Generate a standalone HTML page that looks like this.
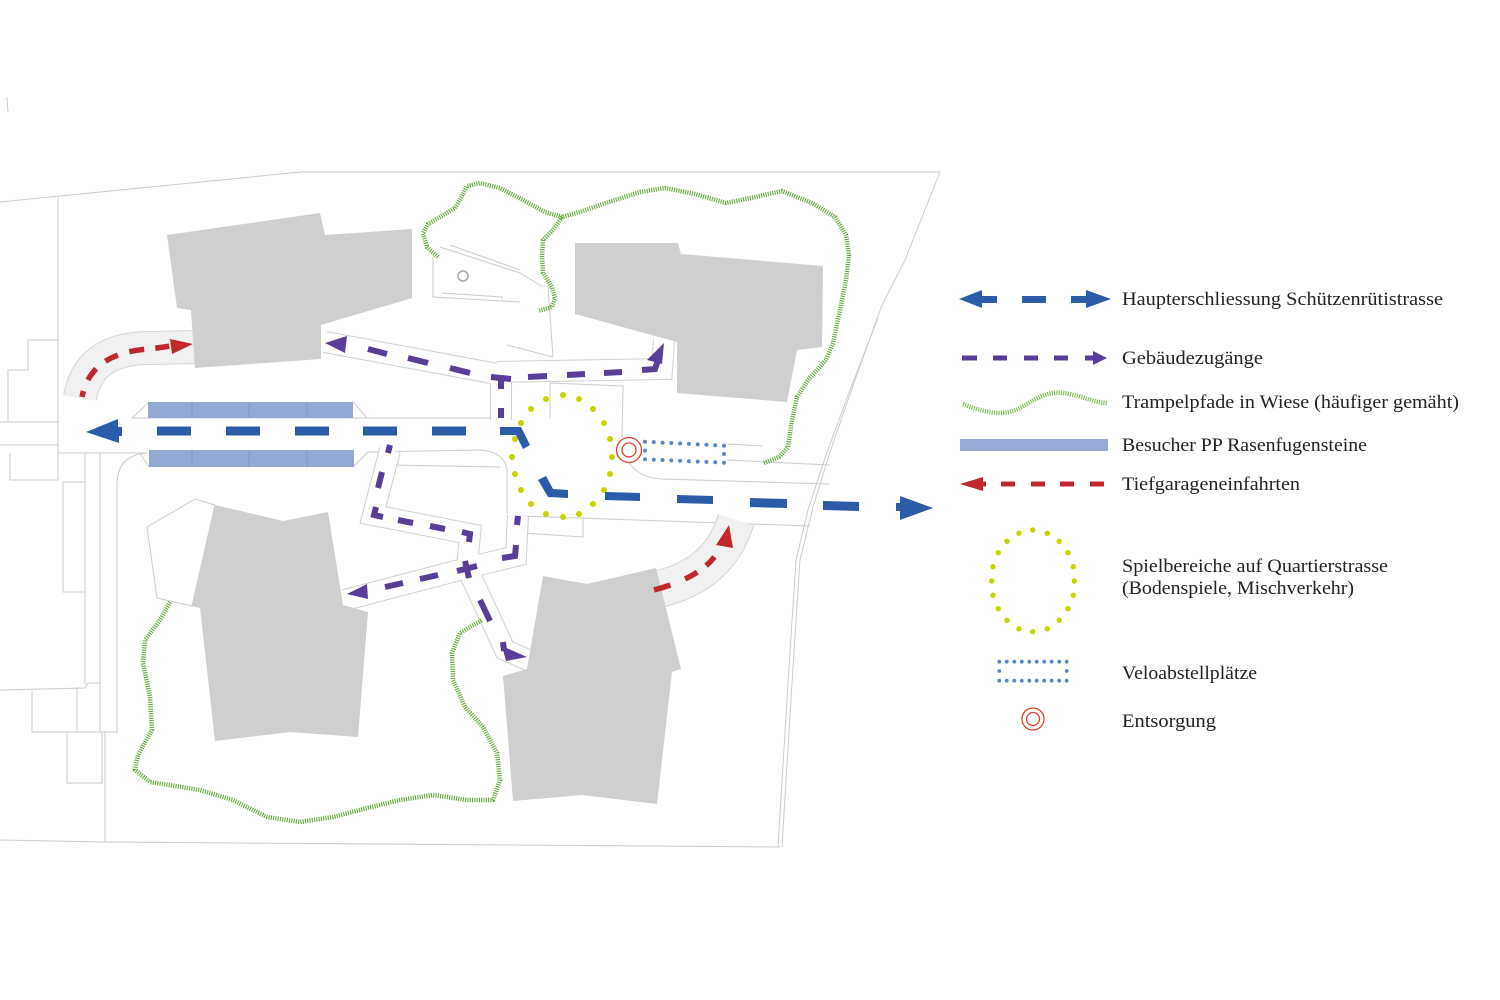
<!DOCTYPE html>
<html><head><meta charset="utf-8"><style>
html,body{margin:0;padding:0;background:#fff;}
svg{display:block;}
text{font-family:"Liberation Serif",serif;font-size:18.5px;fill:#222;}
</style></head><body>
<svg width="1500" height="1000" viewBox="0 0 1500 1000" xmlns="http://www.w3.org/2000/svg">
<rect width="1500" height="1000" fill="#fff"/>

<!-- site thin lines -->
<g fill="none" stroke="#cdcdcd" stroke-width="1">
<path d="M7,97 L8,112"/>
<path d="M0,202 L301,172 L940,172 L905,260 L882,305 L855,380 L830,452 L813,507 L800,560 L793,667 L782,847"/>
<path d="M878,318 L850,390 L826,455 L808,510 L796,560 L789,667 L778,847"/>
<path d="M0,840 L105,842 L780,847"/>
<path d="M58,198 L58,453"/>
<path d="M0,422 L58,422 M0,445 L58,445"/>
<path d="M28,340 L58,340 M28,340 L28,370 L8,370 L8,422"/>
<path d="M58,453 L147,453 Q117,455 117,485 L117,733"/>
<path d="M10,453 L10,480 L58,480 L58,453"/>
<path d="M63,482 L85,482 L85,592 L63,592 Z"/>
<path d="M85,453 L85,684 M100,453 L100,732 M105,732 L105,842"/>
<path d="M0,690 L85,688 L88,683 L100,683"/>
<path d="M32,690 L32,732 L77,732 L77,687 M77,732 L118,732 M67,732 L67,783 L102,783 L102,732"/>
<path d="M132,418 L500,418"/>
<path d="M132,418 L148,403 M353,402 L367,418 M140,453 L149,467 M353,467 L368,452"/>
<path d="M368,452 L480,450 Q505,452 507,470 L507,513"/>
<path d="M390,465 L500,467"/>
<path d="M550,383 L623,386 L622,437 M550,383 L550,418"/>
<path d="M628,462 Q640,478 662,479 L830,484"/>
<path d="M727,444 L763,446 M727,460 L830,465"/>
<path d="M520,516 L810,526"/>
<path d="M523,516 L523,533 L583,537 L583,517"/>
<path d="M440,247 L520,273 L543,287 M450,245 L520,270"/>
<path d="M433,297 L520,302 M442,293 L502,297 L502,299"/>
<path d="M433,257 L433,297 M548,287 L553,357 M507,345 L553,357"/>
<path d="M147,527 L195,499 L215,505 L192,606 L157,598 Z"/>
</g>

<!-- light bands (garage ramps) -->
<g fill="none">
<path d="M80,398 Q88,348 150,348 L196,347" stroke="#d4d4d4" stroke-width="34"/>
<path d="M80,398 Q88,348 150,348 L196,347" stroke="#f1f1f1" stroke-width="32"/>
<path d="M655,590 C690,582 722,565 736,520" stroke="#d4d4d4" stroke-width="38"/>
<path d="M655,590 C690,582 722,565 736,520" stroke="#f1f1f1" stroke-width="36"/>
</g>

<!-- walkways -->
<g fill="none" stroke-linejoin="miter">
<g stroke="#d0d0d0" stroke-width="22">
<path d="M325,342 L497,374"/>
<path d="M497,372 L662,369 L664,340"/>
<path d="M501,372 L501,420"/>
<path d="M390,450 L373,515 L470,534 L467,568"/>
<path d="M518,516 L516,556 L467,568 L345,600"/>
<path d="M467,568 L505,650 L528,660"/>
</g>
<g stroke="#fff" stroke-width="20">
<path d="M325,342 L497,374"/>
<path d="M497,372 L662,369 L664,340"/>
<path d="M501,372 L501,420"/>
<path d="M390,450 L373,515 L470,534 L467,568"/>
<path d="M518,516 L516,556 L467,568 L345,600"/>
<path d="M467,568 L505,650 L528,660"/>
</g>
</g>

<!-- buildings -->
<g fill="#cfcfcf">
<polygon points="167,235 320,213 325,235 412,229 412,298 321,325 321,359 195,368 191,310 177,308"/>
<polygon points="575,243 678,243 681,254 823,266 822,347 797,350 787,402 677,393 677,342 575,314"/>
<polygon points="215,505 283,521 328,512 343,605 368,612 358,737 290,732 215,741 200,608 192,606"/>
<polygon points="543,576 587,584 656,568 681,669 672,672 657,804 582,795 513,801 503,676 527,669"/>
</g>

<!-- small circle -->
<circle cx="463" cy="276" r="5" fill="none" stroke="#aaa" stroke-width="1.6"/>

<!-- parking -->
<g>
<rect x="148" y="402" width="205" height="16" fill="#94a8d4"/>
<rect x="149" y="450" width="205" height="17" fill="#94a8d4"/>
<g stroke="#7f95c4" stroke-width="1">
<path d="M192,402 V418 M249,402 V418 M307,402 V418 M192,450 V467 M249,450 V467 M307,450 V467"/>
</g>
</g>

<!-- green trampelpfade -->
<g fill="none" stroke="#64a63c" stroke-width="4.5" stroke-dasharray="1.1 1.2" stroke-linejoin="round">
<polyline points="438,257 427,247 423,233 428,224 442,216 455,208 462,196 467,186 480,183 500,188 523,200 545,212 562,217 580,212 606,203 640,192 665,188 695,194 726,203 751,198 782,191 812,203 835,217 846,235 849,255 846,280 840,310 833,343 826,360 808,380 797,397 792,420 788,447 779,457 764,463"/>
<polyline points="562,217 553,230 543,240 542,257 543,273 552,287 555,298 552,307 538,311"/>
<polyline points="170,602 160,620 145,640 143,663 150,697 152,730 138,755 135,770 150,782 200,790 233,800 267,817 300,822 333,817 367,808 400,800 433,795 467,800 493,800 500,780 497,753 483,727 465,707 453,680 452,653 460,633 482,620"/>
</g>

<!-- red garage arrows -->
<g fill="none" stroke="#c1272d" stroke-width="5.5">
<path d="M82,397 Q91,352 150,349 L171,346" stroke-dasharray="6 12 14 12 14 12 15 11 14 40"/>
<path d="M654,590 C688,581 712,567 721,546" stroke-dasharray="17 16 14 11 12 30"/>
</g>
<g fill="#c1272d">
<polygon points="170,339 193,344 172,354"/>
<polygon points="729,525 716,545 733,548"/>
</g>

<!-- yellow play dots -->
<g fill="#c8d400">
<circle cx="563" cy="395" r="3"/><circle cx="546" cy="399" r="3"/><circle cx="579" cy="399" r="3"/>
<circle cx="531" cy="409" r="3"/><circle cx="593" cy="409" r="3"/><circle cx="521" cy="423" r="3"/>
<circle cx="604" cy="423" r="3"/><circle cx="515" cy="439" r="3"/><circle cx="610" cy="439" r="3"/>
<circle cx="512" cy="457" r="3"/><circle cx="612" cy="457" r="3"/><circle cx="515" cy="474" r="3"/>
<circle cx="610" cy="474" r="3"/><circle cx="521" cy="490" r="3"/><circle cx="604" cy="490" r="3"/>
<circle cx="531" cy="504" r="3"/><circle cx="593" cy="504" r="3"/><circle cx="546" cy="514" r="3"/>
<circle cx="579" cy="514" r="3"/><circle cx="563" cy="517" r="3"/>
</g>

<!-- velo dots -->
<g fill="#5a88c6">
<circle cx="645" cy="441.7" r="2"/><circle cx="653.8" cy="442.1" r="2"/><circle cx="662.6" cy="442.6" r="2"/><circle cx="671.3" cy="443" r="2"/><circle cx="680.1" cy="443.5" r="2"/><circle cx="688.9" cy="443.9" r="2"/><circle cx="697.7" cy="444.4" r="2"/><circle cx="706.4" cy="444.8" r="2"/><circle cx="715.2" cy="445.3" r="2"/><circle cx="724" cy="445.7" r="2"/>
<circle cx="645" cy="459.3" r="2"/><circle cx="653.8" cy="459.7" r="2"/><circle cx="662.6" cy="460" r="2"/><circle cx="671.3" cy="460.4" r="2"/><circle cx="680.1" cy="460.8" r="2"/><circle cx="688.9" cy="461.2" r="2"/><circle cx="697.7" cy="461.6" r="2"/><circle cx="706.4" cy="461.9" r="2"/><circle cx="715.2" cy="462.3" r="2"/><circle cx="724" cy="462.7" r="2"/>
<circle cx="645" cy="450.5" r="2"/><circle cx="724" cy="454" r="2"/>
</g>

<!-- entsorgung -->
<g fill="none" stroke="#d4462c" stroke-width="1.3">
<circle cx="629" cy="450" r="12.5"/><circle cx="629" cy="450" r="7"/>
</g>

<!-- purple building access -->
<g stroke="#5a3d99" stroke-width="6" fill="none" stroke-linecap="butt">
<path d="M368,349 L387,354 M408,358 L428,363 M450,368 L470,373"/>
<path d="M491,377 L511,379 M501,378 L501,389 M501,408 L501,418"/>
<path d="M528,377 L547,376 M567,375 L585,374 M604,373 L622,372"/>
<path d="M642,370 L655,369 L658,360"/>
<path d="M390,445 L388,453 M382,472 L378,488"/>
<path d="M376,507 L374,515 L383,517"/>
<path d="M398,520 L413,523 M430,526 L445,529"/>
<path d="M462,532 L470,534 L469,542"/>
<path d="M457,571 L477,566 M465,561 L469,578"/>
<path d="M438,575 L420,579 M403,583 L385,587"/>
<path d="M480,600 L490,621"/>
<path d="M503,642 L504,651"/>
<path d="M518,516 L517,525"/>
<path d="M516,545 L515,556 L502,558"/>
</g>
<g fill="#5a3d99">
<polygon points="325,343 347,336 345,353"/>
<polygon points="664,343 647,360 662,364"/>
<polygon points="347,594 367,584 368,599"/>
<polygon points="502,646 527,657 506,661"/>
</g>

<!-- main blue axis -->
<g fill="#2c5ca8">
<polygon points="86,432 118,419 118,427 122,427 122,436 119,436 119,443"/>
<rect x="157" y="426.5" width="34" height="9"/>
<rect x="226" y="426.5" width="34" height="9"/>
<rect x="295" y="426.5" width="34" height="9"/>
<rect x="363" y="426.5" width="34" height="9"/>
<rect x="432" y="426.5" width="34" height="9"/>
<polygon points="500,427 521,427 530,445 523,449 516,435 500,435"/>
<polygon points="538,480 546,476 553,489 568,490 568,498 548,497"/>
<polygon points="605,492 640,493 640,501 605,500"/>
<polygon points="677,495 713,496 713,504 677,503"/>
<polygon points="750,498 787,499 787,508 750,507"/>
<polygon points="823,501 859,502 859,511 823,510"/>
<rect x="896" y="503" width="6" height="8"/>
<polygon points="900,496 933,508 900,520"/>
</g>

<!-- LEGEND -->
<g fill="#2c5ca8">
<polygon points="959,299 982,290 982,296 997,296 997,303 982,303 982,308"/>
<rect x="1022" y="296" width="24" height="7"/>
<polygon points="1071,296 1086,296 1086,290 1111,299 1086,308 1086,303 1071,303"/>
</g>
<text x="1122" y="305" textLength="321" lengthAdjust="spacingAndGlyphs">Haupterschliessung Schützenrütistrasse</text>

<g stroke="#5a3d99" stroke-width="5">
<path d="M962,358 H977 M993,358 H1007 M1024,358 H1038 M1054,358 H1068 M1085,358 H1094"/>
</g>
<polygon points="1093,351 1107,358 1093,365" fill="#5a3d99"/>
<text x="1122" y="364" textLength="141" lengthAdjust="spacingAndGlyphs">Gebäudezugänge</text>

<path d="M963,404 C985,413 1005,417 1022,407 C1040,396 1050,390 1070,394 C1085,397 1095,403 1108,403" fill="none" stroke="#7cba50" stroke-width="4.5" stroke-dasharray="1.1 1.2"/>
<text x="1122" y="408" textLength="337" lengthAdjust="spacingAndGlyphs">Trampelpfade in Wiese (häufiger gemäht)</text>

<rect x="960" y="439" width="148" height="12" fill="#97a9d5"/>
<text x="1122" y="451" textLength="245" lengthAdjust="spacingAndGlyphs">Besucher PP Rasenfugensteine</text>

<polygon points="960,484 983,477 983,491" fill="#c1272d"/>
<g stroke="#c1272d" stroke-width="5">
<path d="M983,484 H986 M1001,484 H1015 M1031,484 H1045 M1060,484 H1074 M1090,484 H1104"/>
</g>
<text x="1122" y="490" textLength="178" lengthAdjust="spacingAndGlyphs">Tiefgarageneinfahrten</text>

<g fill="#c8d400">
<circle cx="1032.7" cy="530" r="2.7"/><circle cx="1019" cy="533.3" r="2.7"/><circle cx="1047.3" cy="533.3" r="2.7"/>
<circle cx="1007" cy="541.3" r="2.7"/><circle cx="1059.3" cy="541.3" r="2.7"/><circle cx="998.3" cy="552.7" r="2.7"/>
<circle cx="1068" cy="552.7" r="2.7"/><circle cx="993" cy="566.7" r="2.7"/><circle cx="1073.3" cy="566.7" r="2.7"/>
<circle cx="991.7" cy="581" r="2.7"/><circle cx="1074.3" cy="581" r="2.7"/><circle cx="993" cy="595.3" r="2.7"/>
<circle cx="1073.3" cy="595.3" r="2.7"/><circle cx="998.3" cy="608.7" r="2.7"/><circle cx="1068" cy="608.7" r="2.7"/>
<circle cx="1007" cy="620.3" r="2.7"/><circle cx="1059.3" cy="620.3" r="2.7"/><circle cx="1019" cy="628.7" r="2.7"/>
<circle cx="1047.3" cy="628.7" r="2.7"/><circle cx="1032.7" cy="631.7" r="2.7"/>
</g>
<text x="1122" y="572" textLength="266" lengthAdjust="spacingAndGlyphs">Spielbereiche auf Quartierstrasse</text>
<text x="1122" y="594" textLength="232" lengthAdjust="spacingAndGlyphs">(Bodenspiele, Mischverkehr)</text>

<g fill="#5a88c6">
<circle cx="999.3" cy="661.7" r="1.9"/><circle cx="1006.8" cy="661.7" r="1.9"/><circle cx="1014.3" cy="661.7" r="1.9"/><circle cx="1021.8" cy="661.7" r="1.9"/><circle cx="1029.3" cy="661.7" r="1.9"/><circle cx="1036.7" cy="661.7" r="1.9"/><circle cx="1044.2" cy="661.7" r="1.9"/><circle cx="1051.7" cy="661.7" r="1.9"/><circle cx="1059.2" cy="661.7" r="1.9"/><circle cx="1066.7" cy="661.7" r="1.9"/>
<circle cx="999.3" cy="680.7" r="1.9"/><circle cx="1006.8" cy="680.7" r="1.9"/><circle cx="1014.3" cy="680.7" r="1.9"/><circle cx="1021.8" cy="680.7" r="1.9"/><circle cx="1029.3" cy="680.7" r="1.9"/><circle cx="1036.7" cy="680.7" r="1.9"/><circle cx="1044.2" cy="680.7" r="1.9"/><circle cx="1051.7" cy="680.7" r="1.9"/><circle cx="1059.2" cy="680.7" r="1.9"/><circle cx="1066.7" cy="680.7" r="1.9"/>
<circle cx="999.3" cy="671" r="1.9"/><circle cx="1066.7" cy="671" r="1.9"/>
</g>
<text x="1122" y="679" textLength="135" lengthAdjust="spacingAndGlyphs">Veloabstellplätze</text>

<g fill="none" stroke="#d4462c" stroke-width="1.3">
<circle cx="1033" cy="719" r="11"/><circle cx="1033" cy="719" r="6.5"/>
</g>
<text x="1122" y="727" textLength="94" lengthAdjust="spacingAndGlyphs">Entsorgung</text>
</svg>
</body></html>
